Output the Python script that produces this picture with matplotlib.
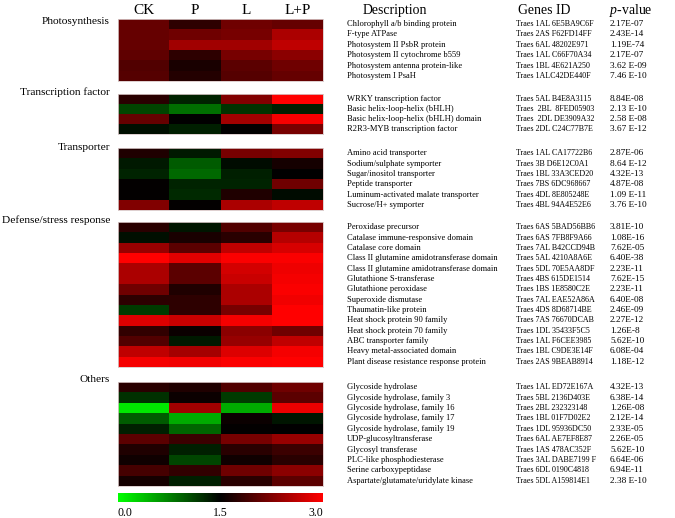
import matplotlib
matplotlib.use("Agg")
import matplotlib.pyplot as plt
import numpy as np
from matplotlib.colors import LinearSegmentedColormap, Normalize
from matplotlib.transforms import blended_transform_factory
import matplotlib.colorbar as mcolorbar

plt.rcParams['font.family'] = ['Liberation Serif', 'DejaVu Serif']
plt.rcParams['mathtext.fontset'] = 'custom'
plt.rcParams['mathtext.rm'] = 'Liberation Serif'
plt.rcParams['mathtext.it'] = 'Liberation Serif:italic'

columns = ["CK", "P", "L", "L+P"]
groups = ["Photosynthesis", "Transcription factor", "Transporter",
          "Defense/stress response", "Others"]

photo_desc = ["Chlorophyll a/b binding protein", "F-type ATPase", "Photosystem II PsbR protein",
              "Photosystem II cytochrome b559", "Photosystem antenna protein-like", "Photosystem I PsaH"]
photo_ids = ["Traes 1AL 6E5BA9C6F", "Traes 2AS F62FD14FF", "Traes 6AL 48202E971",
             "Traes 1AL C66F70A34", "Traes 1BL 4E621A250", "Traes 1ALC42DE440F"]
photo_p = ["2.17E-07", "2.43E-14", "1.19E-74", "2.17E-07", "3.62 E-09", "7.46 E-10"]
photo_vals = [[2.09, 1.76, 2.15, 2.09],
              [2.09, 2.15, 2.20, 2.50],
              [2.09, 2.44, 2.44, 2.62],
              [2.06, 1.76, 2.20, 2.32],
              [1.97, 1.65, 2.03, 2.15],
              [2.00, 1.70, 2.00, 2.09]]

tf_desc = ["WRKY transcription factor", "Basic helix-loop-helix (bHLH)",
           "Basic helix-loop-helix (bHLH) domain", "R2R3-MYB transcription factor"]
tf_ids = ["Traes 5AL B4E8A3115", "Traes  2BL  8FED05903", "Traes  2DL DE3909A32", "Traes 2DL C24C77B7E"]
tf_p = ["8.84E-08", "2.13 E-10", "2.58 E-08", "3.67 E-12"]
tf_vals = [[1.74, 1.29, 2.26, 3.00],
           [1.09, 0.85, 1.20, 1.32],
           [2.09, 1.50, 2.44, 2.94],
           [1.41, 1.32, 1.50, 2.20]]

tr_desc = ["Amino acid transporter", "Sodium/sulphate symporter", "Sugar/inositol transporter",
           "Peptide transporter", "Luminum-activated malate transporter", "Sucrose/H+ symporter"]
tr_ids = ["Traes 1AL CA17722B6", "Traes 3B D6E12C0A1", "Traes 1BL 33A3CED20",
          "Traes 7BS 6DC968667", "Traes 4DL 8E805248E", "Traes 4BL 94A4E52E6"]
tr_p = ["2.87E-06", "8.64 E-12", "4.32E-13", "4.87E-08", "1.09 E-11", "3.76 E-10"]
tr_vals = [[1.68, 1.35, 2.20, 2.26],
           [1.35, 0.97, 1.44, 1.62],
           [1.29, 0.88, 1.32, 1.50],
           [1.52, 1.29, 1.29, 2.15],
           [1.52, 1.26, 1.68, 1.44],
           [2.26, 1.52, 2.50, 2.62]]

df_desc = ["Peroxidase precursor", "Catalase immune-responsive domain", "Catalase core domain",
           "Class II glutamine amidotransferase domain", "Class II glutamine amidotransferase domain",
           "Glutathione S-transferase", "Glutathione peroxidase", "Superoxide dismutase",
           "Thaumatin-like protein", "Heat shock protein 90 family", "Heat shock protein 70 family",
           "ABC transporter family", "Heavy metal-associated domain",
           "Plant disease resistance response protein"]
df_ids = ["Traes 6AS 5BAD56BB6", "Traes 6AS 7FB8F9A66", "Traes 7AL B42CCD94B",
          "Traes 5AL 4210A8A6E", "Traes 5DL 70E5AA8DF", "Traes 4BS 615DE1514",
          "Traes 1BS 1E8580C2E", "Traes 7AL EAE52A86A", "Traes 4DS 8D68714BE",
          "Traes 7AS 76670DCAB", "Traes 1DL 35433F5C5", "Traes 1AL F6CEE3985",
          "Traes 1BL C9DE3E14F", "Traes 2AS 9BEAB8914"]
df_p = ["3.81E-10", "1.08E-16", "7.62E-05", "6.40E-38", "2.23E-11", "7.62E-15", "2.23E-11",
        "6.40E-08", "2.46E-09", "2.27E-12", "1.26E-8", "5.62E-10", "6.08E-04", "1.18E-12"]
df_vals = [[1.74, 1.38, 1.97, 2.20],
           [1.41, 1.65, 1.74, 2.56],
           [2.38, 2.03, 2.62, 2.76],
           [3.00, 2.82, 2.97, 2.97],
           [2.50, 2.03, 2.74, 2.90],
           [2.50, 2.03, 2.68, 2.94],
           [2.15, 1.68, 2.50, 2.97],
           [1.76, 1.76, 2.50, 2.91],
           [1.15, 1.76, 2.20, 3.00],
           [2.79, 2.68, 2.94, 3.00],
           [1.79, 1.56, 2.32, 2.15],
           [1.97, 1.35, 2.38, 2.62],
           [2.62, 2.47, 2.79, 2.94],
           [2.94, 2.91, 2.97, 3.00]]

ot_desc = ["Glycoside hydrolase", "Glycoside hydrolase, family 3", "Glycoside hydrolase, family 16",
           "Glycoside hydrolase, family 17", "Glycoside hydrolase, family 19", "UDP-glucosyltransferase",
           "Glycosyl transferase", "PLC-like phosphodiesterase", "Serine carboxypeptidase",
           "Aspartate/glutamate/uridylate kinase"]
ot_ids = ["Traes 1AL ED72E167A", "Traes 5BL 2136D403E", "Traes 2BL 232323148",
          "Traes 1BL 01F7D02E2", "Traes 1DL 95936DC50", "Traes 6AL AE7EF8E87",
          "Traes 1AS 478AC352F", "Traes 3AL DABE7199 F", "Traes 6DL 0190C4818",
          "Traes 5DL A159814E1"]
ot_p = ["4.32E-13", "6.38E-14", "1.26E-08", "2.12E-14", "2.33E-05", "2.26E-05",
        "5.62E-10", "6.64E-06", "6.94E-11", "2.38 E-10"]
ot_vals = [[1.74, 1.68, 1.97, 2.15],
           [1.21, 1.56, 1.15, 2.03],
           [0.15, 2.44, 0.50, 2.88],
           [0.97, 0.50, 1.56, 1.38],
           [1.32, 0.91, 1.52, 1.50],
           [2.03, 1.85, 2.20, 2.38],
           [1.68, 1.32, 1.74, 1.85],
           [1.59, 1.09, 1.59, 1.74],
           [1.91, 1.79, 2.15, 2.32],
           [1.62, 1.32, 1.74, 2.03]]

cbar_ticks = [0.0, 1.5, 3.0]
cbar_labels = ["0.0", "1.5", "3.0"]

blocks = [
    (photo_desc, photo_ids, photo_p, photo_vals),
    (tf_desc, tf_ids, tf_p, tf_vals),
    (tr_desc, tr_ids, tr_p, tr_vals),
    (df_desc, df_ids, df_p, df_vals),
    (ot_desc, ot_ids, ot_p, ot_vals),
]

W, H = 675, 518
fig = plt.figure(figsize=(W / 100, H / 100), dpi=100)
fig.patch.set_facecolor('white')
renderer = fig.canvas.get_renderer()


def fit_size(s, target_px, base=10.0):
    t = fig.text(0, 0, s, fontsize=base)
    w = t.get_window_extent(renderer=renderer).width
    t.remove()
    return base * target_px / w


cmap = LinearSegmentedColormap.from_list("gbr", [(0, (0, 1, 0)), (0.5, (0, 0, 0)), (1, (1, 0, 0))])
norm = Normalize(vmin=0, vmax=3)


def fx(x):
    return x / W


def fy(y):
    return 1 - y / H


# pixel layout of heatmap blocks (top, bottom) and group label centres
block_px = [(19, 81), (94, 134), (148, 210), (222, 367), (382, 486)]
label_py = [22, 92, 147, 220, 380]
hx0, hx1 = 118, 323

desc_x, id_x, p_x = 347, 516, 610
desc_fs = fit_size("Plant disease resistance response protein", 137)
id_fs = fit_size("Traes 1AL 6E5BA9C6F", 77)
p_fs = fit_size("2.17E-07", 34)

axes = []
for (desc, ids, pv, vals), (t, b), ly, gname in zip(blocks, block_px, label_py, groups):
    ax = fig.add_axes([fx(hx0), fy(b), fx(hx1) - fx(hx0), (b - t) / H])
    arr = np.array(vals)
    ax.pcolormesh(np.arange(arr.shape[1] + 1), np.arange(arr.shape[0] + 1), arr,
                  cmap=cmap, norm=norm)
    ax.set_xlim(0, arr.shape[1])
    ax.set_ylim(arr.shape[0], 0)
    ax.set_xticks([])
    ax.set_yticks([])
    for s in ax.spines.values():
        s.set_color('#d8c8c8')
        s.set_linewidth(0.6)
    tr = blended_transform_factory(fig.transFigure, ax.transData)
    for i in range(arr.shape[0]):
        fig.text(fx(desc_x), i + 0.5, desc[i], transform=tr, fontsize=desc_fs, va='center', ha='left')
        fig.text(fx(id_x), i + 0.5, ids[i], transform=tr, fontsize=id_fs, va='center', ha='left')
        fig.text(fx(p_x), i + 0.5, pv[i], transform=tr, fontsize=p_fs, va='center', ha='left')
    fig.text(fx(110), fy(ly), gname, fontsize=8.2, ha='right', va='center')
    axes.append(ax)

# column headers
ax0 = axes[0]
trh = blended_transform_factory(ax0.transData, fig.transFigure)
for j, c in enumerate(columns):
    fig.text(j + 0.5, fy(10), c, transform=trh, fontsize=11, ha='center', va='center')

hdr_fs = fit_size("Description", 64)
fig.text(fx(363), fy(10.5), "Description", fontsize=hdr_fs, ha='left', va='center')
fig.text(fx(518), fy(10.5), "Genes ID", fontsize=hdr_fs, ha='left', va='center')
pv_label = r"$\it{p}$-value"
fig.text(fx(609), fy(10.5), pv_label, fontsize=min(hdr_fs, fit_size(pv_label, 50)), ha='left', va='center')

# colorbar
cax = fig.add_axes([fx(hx0), fy(502), fx(hx1) - fx(hx0), 9 / H])
cb = mcolorbar.ColorbarBase(cax, cmap=cmap, norm=norm, orientation='horizontal')
cb.set_ticks([])
cb.outline.set_visible(False)
trc = blended_transform_factory(cax.transData, fig.transFigure)
for v, lab, ha in zip(cbar_ticks, cbar_labels, ['left', 'center', 'right']):
    fig.text(v, fy(513), lab, transform=trc, fontsize=8.5, ha=ha, va='center')

fig.savefig("out.png", dpi=100, facecolor='white')
